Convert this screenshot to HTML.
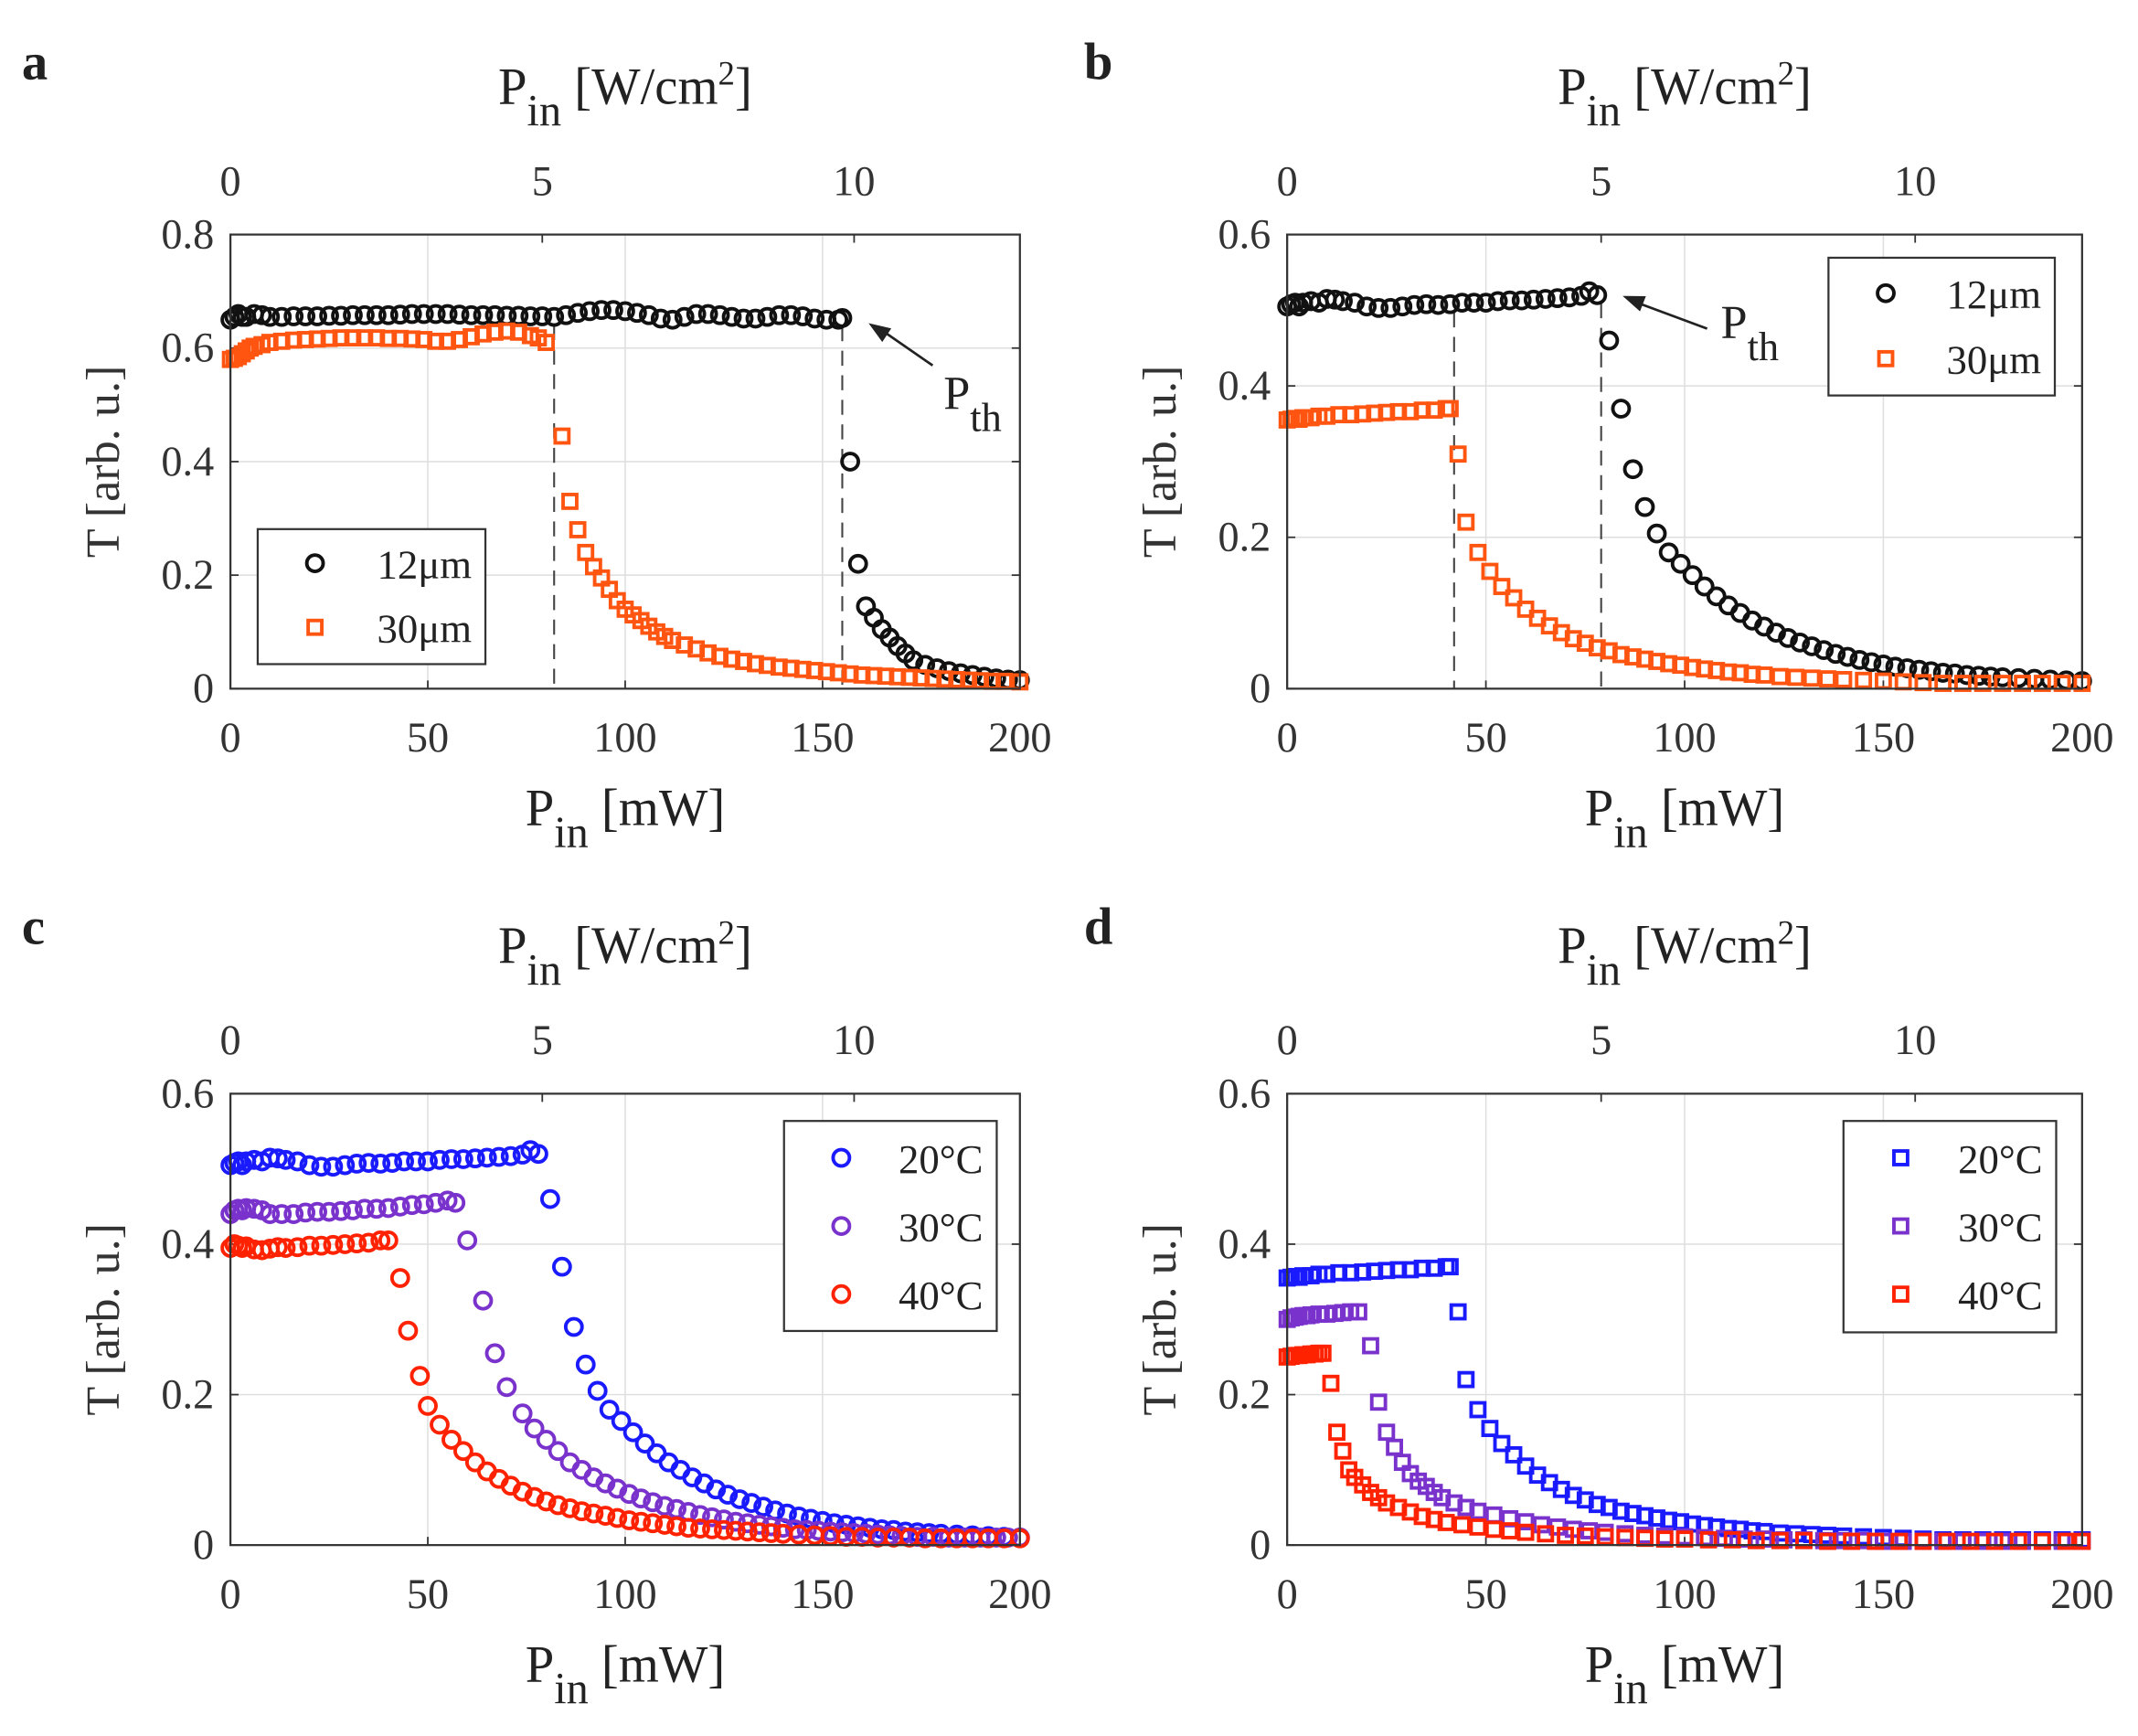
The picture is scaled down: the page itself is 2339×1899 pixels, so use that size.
<!DOCTYPE html>
<html><head><meta charset="utf-8"><title>Transmission vs input power</title>
<style>
html,body{margin:0;padding:0;background:#fff;}
svg{display:block;font-family:"Liberation Serif",serif;}
</style></head>
<body>
<svg id="fig" xmlns="http://www.w3.org/2000/svg" width="2339" height="1899" viewBox="0 0 1568 1273" preserveAspectRatio="none"></svg>
<script>
// ---------- DATA ----------
const xTicks = [0,50,100,150,200];
const xTickLabels = ["0","50","100","150","200"];
const topTicks = [0,5,10];
const topTickLabels = ["0","5","10"];
const mWperWcm2 = 15.8;
const yTicksA = [0,0.2,0.4,0.6,0.8];
const yTickLabelsA = ["0","0.2","0.4","0.6","0.8"];
const yTicksB = [0,0.2,0.4,0.6];
const yTickLabelsB = ["0","0.2","0.4","0.6"];

// Panel a
const a12x = [0,1,2,3,4,6,8,10,13,16,19,22,25,28,31,34,37,40,43,46,49,52,55,58,61,64,67,70,73,76,79,82,85,88,91,94,97,100,103,106,109,112,115,118,121,124,127,130,133,136,139,142,145,148,151,154,155,157,159,161,163,165,167,169,171,173,176,179,182,185,188,191,194,197,200];
const a12y = [0.65,0.655,0.66,0.655,0.655,0.66,0.658,0.655,0.655,0.656,0.656,0.656,0.657,0.657,0.658,0.658,0.658,0.658,0.659,0.66,0.66,0.66,0.66,0.659,0.658,0.658,0.658,0.657,0.657,0.656,0.656,0.655,0.658,0.662,0.665,0.667,0.667,0.665,0.662,0.658,0.652,0.65,0.655,0.66,0.66,0.658,0.655,0.652,0.652,0.655,0.658,0.658,0.656,0.652,0.65,0.65,0.653,0.40,0.22,0.145,0.125,0.105,0.09,0.075,0.062,0.05,0.042,0.036,0.031,0.027,0.024,0.021,0.018,0.016,0.015];
const a30x = [0,1,2,3,4,5,6,8,10,13,16,19,22,25,28,31,34,37,40,43,46,49,52,55,58,61,64,67,70,73,76,78,80,84,86,88,90,92,94,96,98,100,102,104,106,108,110,112,115,118,121,124,127,130,133,136,139,142,145,148,151,154,157,160,163,166,169,172,175,178,181,184,187,190,193,196,200];
const a30y = [0.58,0.582,0.585,0.59,0.595,0.6,0.603,0.606,0.61,0.612,0.614,0.615,0.616,0.617,0.618,0.618,0.618,0.618,0.617,0.617,0.616,0.615,0.612,0.612,0.615,0.62,0.625,0.628,0.63,0.628,0.622,0.618,0.61,0.445,0.33,0.28,0.24,0.215,0.195,0.175,0.155,0.14,0.13,0.12,0.11,0.1,0.092,0.085,0.077,0.07,0.063,0.057,0.052,0.048,0.044,0.041,0.038,0.036,0.034,0.032,0.03,0.028,0.026,0.024,0.023,0.022,0.021,0.02,0.019,0.018,0.017,0.016,0.015,0.014,0.013,0.013,0.012];
const aThresh = [82,155];

// Panel b
const b12x = [0,1,2,3,4,6,8,10,12,14,17,20,23,26,29,32,35,38,41,44,47,50,53,56,59,62,65,68,71,74,76,78,81,84,87,90,93,96,99,102,105,108,111,114,117,120,123,126,129,132,135,138,141,144,147,150,153,156,159,162,165,168,171,174,177,180,184,188,192,196,200];
const b12y = [0.505,0.508,0.51,0.505,0.51,0.512,0.51,0.515,0.514,0.512,0.51,0.505,0.503,0.503,0.505,0.507,0.508,0.507,0.508,0.51,0.51,0.51,0.512,0.513,0.513,0.514,0.515,0.516,0.517,0.519,0.525,0.52,0.46,0.37,0.29,0.24,0.205,0.18,0.165,0.15,0.135,0.122,0.11,0.1,0.09,0.082,0.074,0.067,0.061,0.056,0.051,0.046,0.042,0.038,0.035,0.032,0.029,0.027,0.025,0.023,0.021,0.02,0.018,0.017,0.016,0.015,0.014,0.013,0.012,0.011,0.01];
const b30x = [0,1,2,3,4,6,8,10,13,16,19,22,25,28,31,34,37,40,41,43,45,48,51,54,57,60,63,66,69,72,75,78,81,84,87,90,93,96,99,102,105,108,111,114,117,120,124,128,132,136,140,145,150,155,160,165,170,175,180,185,190,195,200];
const b30y = [0.355,0.356,0.357,0.356,0.358,0.358,0.36,0.36,0.362,0.362,0.363,0.364,0.365,0.366,0.366,0.368,0.368,0.37,0.37,0.31,0.22,0.18,0.155,0.135,0.12,0.105,0.093,0.083,0.074,0.066,0.06,0.054,0.05,0.045,0.042,0.039,0.036,0.033,0.031,0.028,0.026,0.024,0.022,0.021,0.019,0.018,0.016,0.015,0.014,0.013,0.012,0.011,0.01,0.009,0.008,0.007,0.007,0.007,0.007,0.007,0.007,0.007,0.007];
const bThresh = [42,79];

// Panel c (circles)
const c20x = b12x;
const c20y = b12y;
const c30x = [0,1,2,3,4,6,8,10,13,16,19,22,25,28,31,34,37,40,43,46,49,52,55,57,60,64,67,70,74,77,80,83,86,89,92,95,98,101,104,107,110,113,116,119,122,125,128,131,134,137,140,143,146,149,152,155,158,161,164,167,170,174,178,182,186,190,194,197,200];
const c30y = [0.44,0.445,0.447,0.445,0.448,0.447,0.445,0.44,0.44,0.44,0.442,0.443,0.443,0.444,0.445,0.447,0.447,0.448,0.45,0.452,0.453,0.455,0.458,0.455,0.405,0.325,0.255,0.21,0.175,0.155,0.14,0.125,0.11,0.1,0.09,0.082,0.075,0.068,0.062,0.057,0.052,0.048,0.044,0.04,0.037,0.034,0.031,0.029,0.027,0.025,0.023,0.021,0.02,0.019,0.018,0.017,0.016,0.015,0.014,0.013,0.012,0.011,0.011,0.01,0.01,0.01,0.01,0.01,0.01];
const c40x = [0,1,2,3,4,6,8,10,12,14,17,20,23,26,29,32,35,38,40,43,45,48,50,53,56,59,62,65,68,71,74,77,80,83,86,89,92,95,98,101,104,107,110,113,116,119,122,125,128,131,134,137,140,144,148,152,156,160,164,168,172,176,180,184,188,192,196,200];
const c40y = [0.395,0.4,0.398,0.395,0.397,0.393,0.392,0.394,0.396,0.395,0.396,0.398,0.398,0.399,0.4,0.401,0.402,0.405,0.405,0.355,0.285,0.225,0.185,0.16,0.14,0.125,0.11,0.098,0.088,0.079,0.071,0.064,0.058,0.053,0.049,0.045,0.042,0.039,0.036,0.033,0.031,0.029,0.027,0.025,0.023,0.022,0.021,0.02,0.019,0.018,0.017,0.016,0.015,0.014,0.013,0.012,0.011,0.011,0.01,0.01,0.01,0.009,0.009,0.009,0.009,0.009,0.009,0.009];

// Panel d (squares)
const d20x = b30x;
const d20y = b30y;
const d30x = [0,1,2,3,4,5,6,8,10,12,14,16,18,21,23,25,27,29,31,33,35,37,39,42,45,48,52,56,60,64,68,72,76,80,85,90,95,100,105,110,115,120,125,130,135,140,145,150,155,160,165,170,175,180,185,190,195,200];
const d30y = [0.30,0.302,0.303,0.304,0.305,0.305,0.306,0.307,0.307,0.308,0.309,0.31,0.31,0.265,0.19,0.15,0.13,0.11,0.095,0.085,0.078,0.07,0.063,0.056,0.05,0.045,0.04,0.035,0.031,0.027,0.024,0.021,0.019,0.017,0.015,0.013,0.012,0.011,0.01,0.009,0.008,0.008,0.007,0.007,0.006,0.006,0.006,0.005,0.005,0.005,0.005,0.005,0.005,0.005,0.005,0.005,0.005,0.005];
const d40x = [0,1,2,3,4,5,6,7,8,9,11,12.5,14,15.5,17,19,21,23,25,28,31,34,37,40,44,48,52,56,60,65,70,75,80,85,90,95,100,106,112,118,124,130,136,142,148,154,160,166,172,178,184,190,196,200];
const d40y = [0.25,0.251,0.252,0.252,0.253,0.253,0.254,0.254,0.255,0.255,0.215,0.15,0.125,0.1,0.09,0.08,0.07,0.063,0.056,0.05,0.044,0.038,0.034,0.03,0.027,0.024,0.021,0.019,0.017,0.015,0.013,0.012,0.011,0.01,0.009,0.008,0.008,0.007,0.007,0.006,0.006,0.006,0.005,0.005,0.005,0.005,0.005,0.005,0.005,0.005,0.005,0.005,0.005,0.005];

// ---------- DRAWING ----------
const NS = "http://www.w3.org/2000/svg";
const svg = document.getElementById("fig");
function mk(tag, attrs, parent){
  const e = document.createElementNS(NS, tag);
  for (const k in attrs) e.setAttribute(k, attrs[k]);
  (parent||svg).appendChild(e);
  return e;
}
function label(parent, x, y, parts, size, anchor){
  const t = mk("text", {x:x, y:y, "font-size":size, "text-anchor":anchor||"middle", fill:"#222"}, parent);
  let off = 0;
  parts.forEach(p=>{
    const s = document.createElementNS(NS,"tspan");
    let dy = 0;
    if (p.sub){ dy = 16 - off; off = 16; s.setAttribute("font-size", size*0.85); }
    else if (p.sup){ dy = -14 - off; off = -14; s.setAttribute("font-size", size*0.65); }
    else { dy = -off; off = 0; }
    if (dy) s.setAttribute("dy", dy);
    s.textContent = p.t;
    t.appendChild(s);
  });
  return t;
}

function panel(cfg){
  const g = mk("g", {});
  
  
  const L=cfg.L, R=cfg.R, T=cfg.T, B=cfg.B;
  const sx = v => L + (v - 0) / 200 * (R - L);
  const sy = v => B - v / cfg.ymax * (B - T);

  const grid = mk("g", {stroke:"#dedede","stroke-width":1}, g);
  
  
  xTicks.forEach(v=>{ if(v>0&&v<200) mk("line",{x1:sx(v),x2:sx(v),y1:T,y2:B},grid); });
  cfg.yTicks.forEach(v=>{ if(v>0&&v<cfg.ymax) mk("line",{x1:L,x2:R,y1:sy(v),y2:sy(v)},grid); });

  const tk = mk("g",{stroke:"#333","stroke-width":1.2},g);
  xTicks.forEach(v=>{ mk("line",{x1:sx(v),x2:sx(v),y1:B,y2:B-6},tk); });
  topTicks.forEach(v=>{ const x=sx(v*mWperWcm2); mk("line",{x1:x,x2:x,y1:T,y2:T+6},tk); });
  cfg.yTicks.forEach(v=>{ mk("line",{x1:L,x2:L+6,y1:sy(v),y2:sy(v)},tk); mk("line",{x1:R,x2:R-6,y1:sy(v),y2:sy(v)},tk); });

  xTicks.forEach((v,i)=>{
    const t = mk("text",{x:sx(v),y:B+46,"font-size":31,"text-anchor":"middle",fill:"#333"},g);
    t.textContent = xTickLabels[i];
    
    
  });
  topTicks.forEach((v,i)=>{
    const t = mk("text",{x:sx(v*mWperWcm2),y:T-29,"font-size":31,"text-anchor":"middle",fill:"#333"},g);
    t.textContent = topTickLabels[i];
    
    
  });
  cfg.yTicks.forEach((v,i)=>{
    const t = mk("text",{x:L-12,y:sy(v)+10,"font-size":31,"text-anchor":"end",fill:"#333"},g);
    t.textContent = cfg.yLabels[i];
    
    
  });

  const xl = label(g,(L+R)/2,B+100,[{t:"P"},{t:"in",sub:1},{t:" [mW]"}],38);
  
  
  const tl = label(g,(L+R)/2,T-96,[{t:"P"},{t:"in",sub:1},{t:" [W/cm"},{t:"2",sup:1},{t:"]",}],38);
  
  
  const yl = mk("text",{x:0,y:0,"font-size":35,"text-anchor":"middle",fill:"#333",transform:`translate(${L-82},${(T+B)/2}) rotate(-90)`},g);
  yl.textContent = "T [arb. u.]";
  
  

  const pl = mk("text",{x:cfg.lx,y:cfg.ly,"font-size":38,"font-weight":"bold",fill:"#222"},g);
  pl.textContent = cfg.letter;
  
  

  (cfg.thresh||[]).forEach((tx)=>{
    let yv = 0;
    for (const ser of cfg.series){ for(let k=0;k<ser.x.length;k++){ if(Math.abs(ser.x[k]-tx)<=1.01){ yv=Math.max(yv,ser.y[k]); } } }
    const ln = mk("line",{x1:sx(tx),x2:sx(tx),y1:sy(yv)+6,y2:B,stroke:"#444","stroke-width":1.4,"stroke-dasharray":"11,7"},g);
    
    
  });

  cfg.series.forEach(ser=>{
    const sg = mk("g",{fill:"none",stroke:ser.color,"stroke-width":2.6},g);
    
    
    const n = Math.min(ser.x.length, ser.y.length);
    for (let k=0;k<n;k++){
      const x = sx(ser.x[k]), y = sy(ser.y[k]);
      let m;
      if (ser.marker==="o") m = mk("circle",{cx:x,cy:y,r:6},sg);
      else m = mk("rect",{x:x-5,y:y-5,width:10,height:10},sg);
      
      
    }
  });

  const fr = mk("rect",{x:L,y:T,width:R-L,height:B-T,fill:"none",stroke:"#333","stroke-width":1.5},g);
  
  

  if (cfg.ann){
    const a = cfg.ann;
    const ag = mk("g",{},g);
    
    
    mk("line",{x1:a.x1,y1:a.y1,x2:a.x2+8,y2:a.y2+4,stroke:"#222","stroke-width":1.8},ag);
    const dx=a.x2-a.x1, dy=a.y2-a.y1, len=Math.hypot(dx,dy), ux=dx/len, uy=dy/len;
    const bx=a.x2-ux*16, by=a.y2-uy*16;
    mk("polygon",{points:`${a.x2},${a.y2} ${bx-uy*6},${by+ux*6} ${bx+uy*6},${by-ux*6}`,fill:"#222"},ag);
    label(ag,a.tx,a.ty,[{t:"P"},{t:"th",sub:1}],35,"start");
  }

  const lg = cfg.legend;
  const lgg = mk("g",{},g);
  
  
  mk("rect",{x:lg.x,y:lg.y,width:lg.w,height:lg.h,fill:"#fff",stroke:"#333","stroke-width":1.5},lgg);
  cfg.series.forEach((ser,i)=>{
    const cy = lg.y + lg.pad + i*lg.step;
    const eg = mk("g",{},lgg);
    
    
    if (ser.marker==="o") mk("circle",{cx:lg.x+42,cy:cy,r:6,fill:"none",stroke:ser.color,"stroke-width":2.6},eg);
    else mk("rect",{x:lg.x+37,y:cy-5,width:10,height:10,fill:"none",stroke:ser.color,"stroke-width":2.6},eg);
    const t = mk("text",{x:lg.x+lg.w-10,y:cy+11,"font-size":30,"text-anchor":"end",fill:"#222"},eg);
    t.textContent = ser.label;
  });
}

const ORANGE="#ff5511", BLUE="#1a1aff", PURPLE="#7a32cc", RED="#ff2200";
panel({name:"panel-a",letter:"a",lx:16,ly:58,L:169,R:748,T:172,B:505,ymax:0.8,yTicks:yTicksA,yLabels:yTickLabelsA,
  thresh:aThresh,
  series:[{name:"series-12um",label:"12\u03bcm",marker:"o",color:"#111",x:a12x,y:a12y},
          {name:"series-30um",label:"30\u03bcm",marker:"s",color:ORANGE,x:a30x,y:a30y}],
  legend:{x:189,y:388,w:167,h:99,pad:25,step:47},
  ann:{x1:684,y1:268,x2:637,y2:237,tx:692,ty:300}});
panel({name:"panel-b",letter:"b",lx:795,ly:58,L:944,R:1527,T:172,B:505,ymax:0.6,yTicks:yTicksB,yLabels:yTickLabelsB,
  thresh:bThresh,
  series:[{name:"series-12um",label:"12\u03bcm",marker:"o",color:"#111",x:b12x,y:b12y},
          {name:"series-30um",label:"30\u03bcm",marker:"s",color:ORANGE,x:b30x,y:b30y}],
  legend:{x:1341,y:189,w:166,h:101,pad:26,step:48},
  ann:{x1:1252,y1:241,x2:1190,y2:217,tx:1262,ty:248}});
panel({name:"panel-c",letter:"c",lx:16,ly:692,L:169,R:748,T:802,B:1133,ymax:0.6,yTicks:yTicksB,yLabels:yTickLabelsB,
  series:[{name:"series-20C",label:"20\u00b0C",marker:"o",color:BLUE,x:c20x,y:c20y},
          {name:"series-30C",label:"30\u00b0C",marker:"o",color:PURPLE,x:c30x,y:c30y},
          {name:"series-40C",label:"40\u00b0C",marker:"o",color:RED,x:c40x,y:c40y}],
  legend:{x:575,y:822,w:156,h:154,pad:27,step:50}});
panel({name:"panel-d",letter:"d",lx:795,ly:692,L:944,R:1527,T:802,B:1133,ymax:0.6,yTicks:yTicksB,yLabels:yTickLabelsB,
  series:[{name:"series-20C",label:"20\u00b0C",marker:"s",color:BLUE,x:d20x,y:d20y},
          {name:"series-30C",label:"30\u00b0C",marker:"s",color:PURPLE,x:d30x,y:d30y},
          {name:"series-40C",label:"40\u00b0C",marker:"s",color:RED,x:d40x,y:d40y}],
  legend:{x:1352,y:822,w:156,h:155,pad:27,step:50}});
</script>
</body></html>
